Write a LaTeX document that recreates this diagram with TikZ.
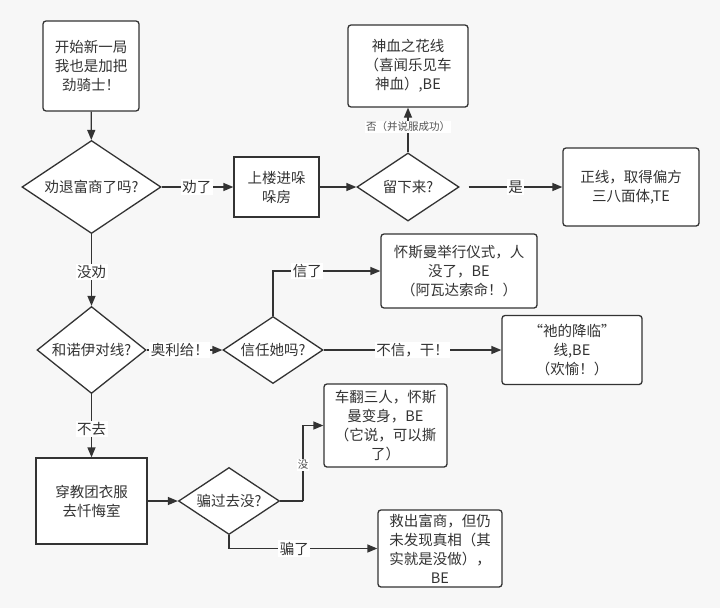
\documentclass[tikz,border=0pt]{standalone}
\usepackage{fontspec}
\newfontfamily\cjk{Noto Sans CJK SC}
\usetikzlibrary{shapes.geometric,arrows.meta}
\definecolor{pagebg}{HTML}{F7F7F7}
\definecolor{ink}{HTML}{333333}
\begin{document}
\begin{tikzpicture}[x=1pt,y=-1pt,
  every node/.style={text=ink},
  txt/.style={font=\cjk\fontsize{14.5}{19}\selectfont, align=center},
  box/.style={txt, draw=ink, line width=1.3pt, fill=white, rounded corners=3pt, inner sep=0pt},
  sbox/.style={box, rounded corners=0pt},
  dia/.style={draw=ink, line width=1.3pt, fill=white, diamond, inner sep=0pt, font=\cjk\fontsize{14.5}{19}\selectfont},
  lbl/.style={font=\cjk\fontsize{14.5}{19}\selectfont, fill=white, inner sep=1.5pt},
  slbl/.style={font=\cjk\fontsize{10.5}{13}\selectfont, fill=white, inner sep=1pt, text=ink!85},
  arr/.style={draw=ink, line width=1.3pt, -{Triangle[length=10pt,width=8pt]}},
  ln/.style={draw=ink, line width=1.3pt}
]
\path[fill=pagebg] (0,0) rectangle (720,608);

% boxes
\node[box, minimum width=96pt, minimum height=90pt] (start) at (91,66) {开始新一局\\我也是加把\\劲骑士！};
\node[sbox, minimum width=85pt, minimum height=60pt] (room) at (276.5,187) {上楼进哚\\哚房};
\node[box, minimum width=120pt, minimum height=82pt] (blood) at (408,66) {神血之花线\\（喜闻乐见车\\神血）,BE};
\node[box, minimum width=136pt, minimum height=78pt] (true) at (631,187) {正线，取得偏方\\三八面体,TE};
\node[box, minimum width=156pt, minimum height=74pt] (ritual) at (459,271) {怀斯曼举行仪式，人\\没了，BE\\（阿瓦达索命！）};
\node[box, minimum width=140pt, minimum height=69pt] (advent) at (572,350) {“祂的降临”\\线,BE\\（欢愉！）};
\node[sbox, minimum width=111pt, minimum height=86pt] (robe) at (91.5,501) {穿教团衣服\\去忏悔室};
\node[box, minimum width=123pt, minimum height=83pt] (crash) at (385.5,425.5) {车翻三人，怀斯\\曼变身，BE\\（它说，可以撕\\了）};
\node[box, minimum width=124pt, minimum height=77pt] (rescue) at (440,548.5) {救出富商，但仍\\未发现真相（其\\实就是没做），\\BE};

% diamonds
\node[dia, minimum width=139pt, minimum height=93pt] (d1) at (91.5,187) {\makebox[0pt]{劝退富商了吗?}};
\node[dia, minimum width=102pt, minimum height=68pt] (d2) at (408,187) {\makebox[0pt]{留下来?}};
\node[dia, minimum width=109pt, minimum height=87pt] (d3) at (91.5,350) {\makebox[0pt]{和诺伊对线?}};
\node[dia, minimum width=100pt, minimum height=67pt] (d4) at (273,350) {\makebox[0pt]{信任她吗?}};
\node[dia, minimum width=101pt, minimum height=67pt] (d5) at (229,501) {\makebox[0pt]{骗过去没?}};

% connectors
\draw[arr] (start) -- (d1);
\draw[arr] (d1.east) -- node[lbl, pos=0.49] {劝了} (room.west);
\draw[arr] (room.east) -- (d2.west);
\draw[arr] (d2.north) -- node[slbl, pos=0.57] {否（并说服成功）} (blood.south);
\draw[arr] ([xshift=9pt]d2.east) -- node[lbl, pos=0.5] {是} (true.west);
\draw[arr] (d1.south) -- node[lbl, pos=0.53] {没劝} (d3.north);
\draw[arr] (d3.east) -- node[lbl, pos=0.44] {奥利给！} (d4.west);
\draw[arr] (d4.north) |- node[lbl, pos=0.66] {信了} (ritual.west);
\draw[arr] (d4.east) -- node[lbl, pos=0.5] {不信，干！} (advent.west);
\draw[arr] (d3.south) -- node[lbl, pos=0.55] {不去} (robe.north);
\draw[arr] (robe.east) -- (d5.west);
\coordinate (k5) at (303,501);
\draw[ln] (d5.east) -- (k5);
\draw[arr] (k5) |- node[slbl, pos=0.24] {没} (crash.west);
\draw[arr] (d5.south) |- node[lbl, pos=0.72] {骗了} (rescue.west);
\end{tikzpicture}
\end{document}
